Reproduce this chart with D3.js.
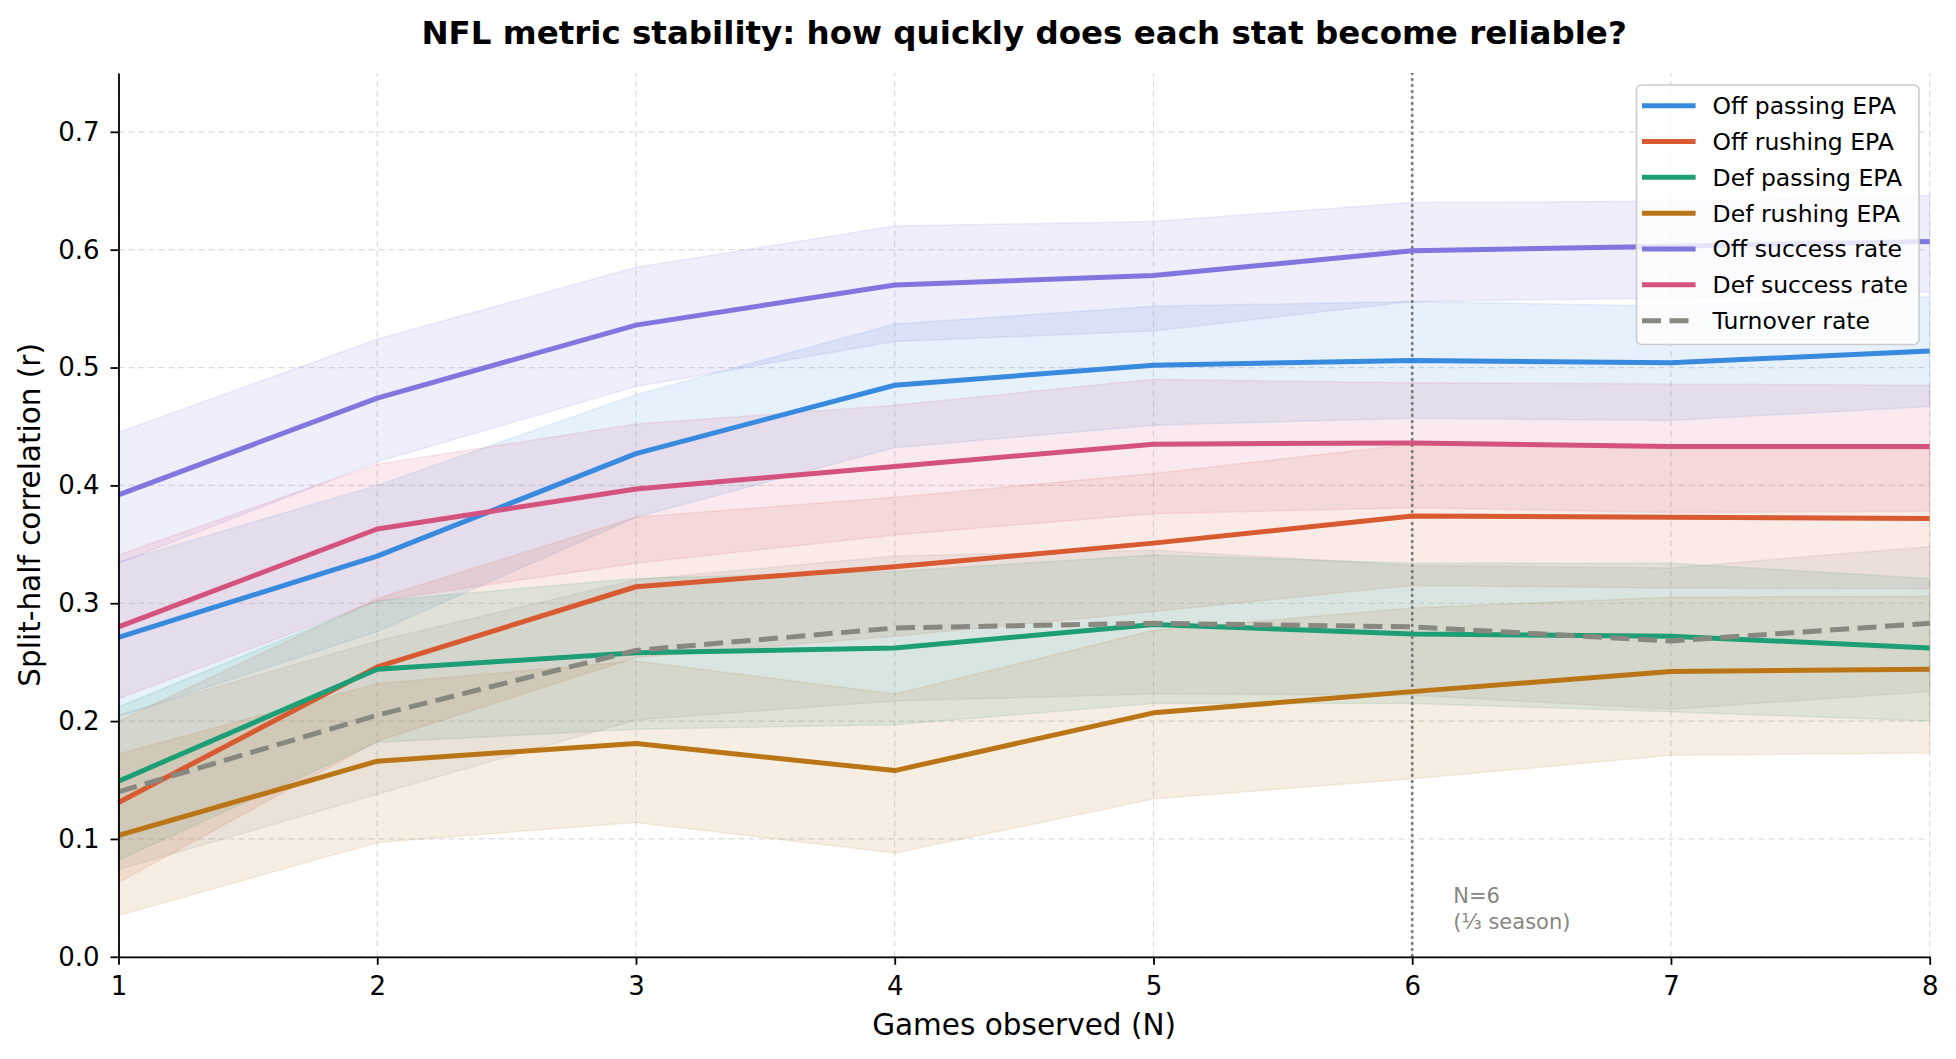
<!DOCTYPE html>
<html><head><meta charset="utf-8">
<script src="https://cdn.jsdelivr.net/npm/d3@7"></script>
<style>
body{margin:0;background:#fff}
svg{display:block}
text{font-family:"DejaVu Sans",sans-serif}
</style>
</head><body>
<svg id="c" width="1956" height="1059"></svg>
<script>
// ---------------- data ----------------
const games = [1, 2, 3, 4, 5, 6, 7, 8];
const xTicks = [1, 2, 3, 4, 5, 6, 7, 8];
const yTicks = [0.0, 0.1, 0.2, 0.3, 0.4, 0.5, 0.6, 0.7];
const seriesLabels = ["Off passing EPA", "Off rushing EPA", "Def passing EPA", "Def rushing EPA",
                      "Off success rate", "Def success rate", "Turnover rate"];

const offPassing   = [0.271, 0.340, 0.427, 0.485, 0.502, 0.506, 0.504, 0.514];
const offPassingHi = [0.335, 0.400, 0.477, 0.537, 0.552, 0.556, 0.552, 0.560];
const offPassingLo = [0.204, 0.276, 0.373, 0.432, 0.451, 0.457, 0.455, 0.467];

const offRushing   = [0.131, 0.246, 0.314, 0.331, 0.351, 0.374, 0.373, 0.372];
const offRushingHi = [0.200, 0.304, 0.373, 0.390, 0.410, 0.435, 0.433, 0.431];
const offRushingLo = [0.063, 0.183, 0.254, 0.272, 0.293, 0.315, 0.313, 0.312];

const defPassing   = [0.149, 0.244, 0.258, 0.262, 0.282, 0.274, 0.272, 0.262];
const defPassingHi = [0.212, 0.302, 0.321, 0.327, 0.341, 0.334, 0.334, 0.321];
const defPassingLo = [0.082, 0.182, 0.193, 0.197, 0.215, 0.215, 0.208, 0.200];

const defRushing   = [0.103, 0.166, 0.181, 0.158, 0.207, 0.225, 0.242, 0.244];
const defRushingHi = [0.172, 0.232, 0.251, 0.223, 0.277, 0.296, 0.305, 0.306];
const defRushingLo = [0.035, 0.097, 0.114, 0.088, 0.134, 0.151, 0.171, 0.173];

const offSuccess   = [0.392, 0.474, 0.536, 0.570, 0.578, 0.599, 0.603, 0.607];
const offSuccessHi = [0.445, 0.524, 0.585, 0.620, 0.624, 0.640, 0.641, 0.646];
const offSuccessLo = [0.334, 0.420, 0.484, 0.522, 0.531, 0.556, 0.559, 0.564];

const defSuccess   = [0.280, 0.363, 0.397, 0.416, 0.435, 0.436, 0.433, 0.433];
const defSuccessHi = [0.341, 0.418, 0.452, 0.468, 0.490, 0.487, 0.486, 0.485];
const defSuccessLo = [0.219, 0.302, 0.334, 0.358, 0.376, 0.381, 0.377, 0.378];

const turnover     = [0.140, 0.205, 0.260, 0.279, 0.283, 0.280, 0.268, 0.283];
const turnoverHi   = [0.205, 0.268, 0.320, 0.340, 0.345, 0.332, 0.330, 0.348];
const turnoverLo   = [0.074, 0.138, 0.201, 0.217, 0.223, 0.222, 0.210, 0.225];

const seriesColors = ["#378ADD", "#D85A30", "#1D9E75", "#BA7517", "#7F77DD", "#D4537E", "#888780"];

// ---------------- build ----------------
const means = [offPassing, offRushing, defPassing, defRushing, offSuccess, defSuccess, turnover];
const his   = [offPassingHi, offRushingHi, defPassingHi, defRushingHi, offSuccessHi, defSuccessHi, turnoverHi];
const los   = [offPassingLo, offRushingLo, defPassingLo, defRushingLo, offSuccessLo, defSuccessLo, turnoverLo];
const series = seriesLabels.map((name, i) => ({
  name, color: seriesColors[i], dashed: name === "Turnover rate",
  pts: games.map((n, j) => ({n, v: means[i][j], lo: los[i][j], hi: his[i][j]}))
}));

const svg = d3.select("#c");
const X0 = 118.5, X1 = 1929.7, Y0 = 956.8, Y1 = 72.9;
const x = d3.scaleLinear().domain([1, 8]).range([X0, X1]);
const y = d3.scaleLinear().domain([0, 0.75]).range([Y0, Y1]);

// grid
const grid = svg.append("g");
grid.selectAll("line.gx").data(xTicks).join("line").attr("class", "gx")
  .attr("x1", d => x(d)).attr("x2", d => x(d)).attr("y1", Y0).attr("y2", Y1)
  .attr("stroke", "#dcdcdc").attr("stroke-width", 1.2).attr("stroke-dasharray", "6,4");
grid.selectAll("line.gy").data(yTicks).join("line").attr("class", "gy")
  .attr("x1", X0).attr("x2", X1).attr("y1", d => y(d)).attr("y2", d => y(d))
  .attr("stroke", "#dcdcdc").attr("stroke-width", 1.2).attr("stroke-dasharray", "6,4");

// bands
const area = d3.area().x(d => x(d.n)).y0(d => y(d.lo)).y1(d => y(d.hi));
svg.append("g").selectAll("path").data(series).join("path")
  .attr("d", s => area(s.pts))
  .attr("fill", s => s.color).attr("fill-opacity", 0.12)
  .attr("stroke", s => s.color).attr("stroke-opacity", 0.12).attr("stroke-width", 1.5);

// reference line at N=6
svg.append("line").attr("x1", x(6)).attr("x2", x(6)).attr("y1", Y0).attr("y2", Y1)
  .attr("stroke", "#6f6f6f").attr("stroke-width", 2.6).attr("stroke-dasharray", "2.6,3.4");
const ann = svg.append("text").attr("x", x(6) + 41).attr("y", 903)
  .attr("font-size", 21).attr("fill", "#888780");
ann.append("tspan").attr("x", x(6) + 41).text("N=6");
ann.append("tspan").attr("x", x(6) + 41).attr("dy", 25.6).text("(⅓ season)");

// lines
const line = d3.line().x(d => x(d.n)).y(d => y(d.v));
svg.append("g").selectAll("path").data(series).join("path")
  .attr("d", s => line(s.pts)).attr("fill", "none")
  .attr("stroke", s => s.color).attr("stroke-width", 5)
  .attr("stroke-linejoin", "round")
  .attr("stroke-dasharray", s => s.dashed ? "19,8.5" : null);

// axes
const ax = svg.append("g").attr("transform", `translate(0,${Y0})`)
  .call(d3.axisBottom(x).tickValues(xTicks).tickFormat(d3.format("d")).tickSize(8).tickSizeOuter(0).tickPadding(12));
const ay = svg.append("g").attr("transform", `translate(${X0},0)`)
  .call(d3.axisLeft(y).tickValues(yTicks).tickFormat(d3.format(".1f")).tickSize(8).tickSizeOuter(0).tickPadding(11));
[ax, ay].forEach(a => {
  a.attr("font-family", "DejaVu Sans").attr("font-size", 26);
  a.select(".domain").attr("stroke", "#000").attr("stroke-width", 1.8);
  a.selectAll(".tick line").attr("stroke", "#000").attr("stroke-width", 1.8);
  a.selectAll(".tick text").attr("fill", "#000");
});

// labels
svg.append("text").attr("x", (X0 + X1) / 2).attr("y", 1035).attr("text-anchor", "middle")
  .attr("font-size", 29.5).text("Games observed (N)");
svg.append("text").attr("transform", `translate(40,${(Y0 + Y1) / 2}) rotate(-90)`)
  .attr("text-anchor", "middle").attr("font-size", 29.5).text("Split-half correlation (r)");
svg.append("text").attr("x", (X0 + X1) / 2).attr("y", 44).attr("text-anchor", "middle")
  .attr("font-size", 32.5).attr("font-weight", "bold").text("NFL metric stability: how quickly does each stat become reliable?");

// legend
const lg = svg.append("g");
lg.append("rect").attr("x", 1636.5).attr("y", 85).attr("width", 282.5).attr("height", 259.5)
  .attr("rx", 5).attr("fill", "#fff").attr("fill-opacity", 0.8)
  .attr("stroke", "#cccccc").attr("stroke-width", 1.6);
const items = lg.selectAll("g.item").data(series).join("g").attr("class", "item")
  .attr("transform", (d, i) => `translate(0,${105.7 + i * 35.83})`);
items.append("line").attr("x1", 1642).attr("x2", 1695.6)
  .attr("stroke", d => d.color).attr("stroke-width", 5)
  .attr("stroke-dasharray", d => d.dashed ? "19,8.5" : null);
items.append("text").attr("x", 1712.6).attr("dy", "0.36em").attr("font-size", 23.5)
  .attr("fill", "#000").text(d => d.name);
</script>
</body></html>
